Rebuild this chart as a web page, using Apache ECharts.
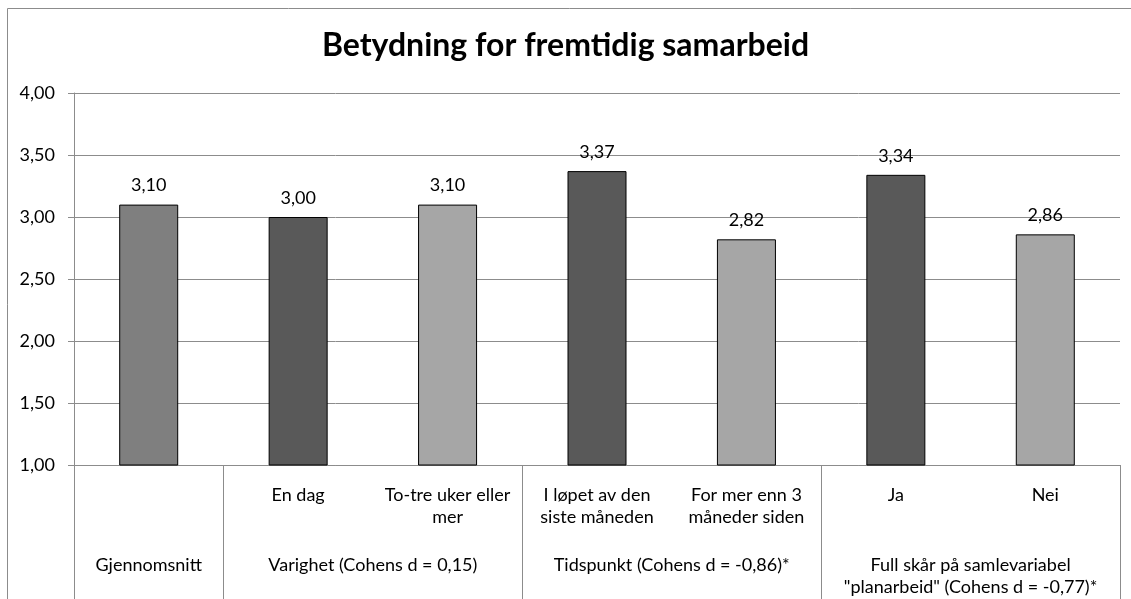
<html>
<head>
    <meta charset="utf-8">
    <script src="https://cdn.jsdelivr.net/npm/echarts@6/dist/echarts.min.js"></script>
    <style>
        html, body { margin: 0; padding: 0; background: #fff; }
        #main { width: 1131px; height: 599px; }
    </style>
</head>
<body>
<div id="main"></div>
<script>
    // bottom row of the category table (one per bar)
    var categories = ['', 'En dag', 'To-tre uker eller\nmer', 'I løpet av den\nsiste måneden',
        'For mer enn 3\nmåneder siden', 'Ja', 'Nei'];
    var values = [3.10, 3.00, 3.10, 3.37, 2.82, 3.34, 2.86];
    // group row and how many bars each group spans
    var groupLabels = ['Gjennomsnitt', 'Varighet (Cohens d = 0,15)', 'Tidspunkt (Cohens d = -0,86)*',
        'Full skår på samlevariabel\n"planarbeid" (Cohens d = -0,77)*'];
    var groupSpans = [1, 2, 2, 2];
    var yTicks = [1, 1.5, 2, 2.5, 3, 3.5, 4];

    var barColors = ['#7f7f7f', '#595959', '#a6a6a6', '#595959', '#a6a6a6', '#595959', '#a6a6a6'];
    var font = 'Lato, "Open Sans", sans-serif';
    var lineColor = '#8c8c8c';

    var fmt = function (v) {
        return v.toFixed(2).replace('.', ',');
    };

    // group boundaries / centres in bar units
    var groupBounds = [0];
    var groupCenters = [];
    groupSpans.forEach(function (s) {
        var start = groupBounds[groupBounds.length - 1];
        groupCenters.push(start + s / 2);
        groupBounds.push(start + s);
    });

    var chart = echarts.init(document.getElementById('main'));

    var option = {
        animation: false,
        textStyle: { fontFamily: font },
        title: {
            text: 'Betydning for fremtidig samarbeid',
            left: 'center',
            top: 25,
            textStyle: { fontSize: 32, fontWeight: 'bold', color: '#000', fontFamily: font }
        },
        graphic: [{
            type: 'rect',
            shape: { x: 7.5, y: 8.5, width: 1300, height: 800 },
            style: { fill: 'none', stroke: lineColor, lineWidth: 1 },
            silent: true
        }],
        grid: { left: 74, right: 11, top: 93, bottom: 134 },
        xAxis: [{
            type: 'category',
            data: categories,
            axisLine: { lineStyle: { color: lineColor } },
            axisTick: { interval: 0, length: 63, lineStyle: { color: lineColor } },
            axisLabel: {
                interval: 0, margin: 19, align: 'center',
                fontSize: 18, lineHeight: 22, color: '#000'
            }
        }, {
            type: 'value',
            min: 0,
            max: categories.length,
            position: 'bottom',
            axisLine: { show: false },
            splitLine: { show: false },
            axisTick: { show: true, customValues: groupBounds, length: 140, lineStyle: { color: lineColor } },
            axisLabel: {
                customValues: groupCenters, margin: 89, align: 'center',
                fontSize: 18, lineHeight: 22, color: '#000',
                formatter: function (v) {
                    var i = groupCenters.indexOf(v);
                    return i >= 0 ? groupLabels[i] : '';
                }
            }
        }],
        yAxis: {
            type: 'value',
            min: yTicks[0],
            max: yTicks[yTicks.length - 1],
            interval: 0.5,
            axisLine: { show: true, lineStyle: { color: lineColor } },
            axisTick: { show: true, length: 6, lineStyle: { color: lineColor } },
            splitLine: { lineStyle: { color: lineColor } },
            axisLabel: { margin: 19, fontSize: 18, color: '#000', formatter: fmt }
        },
        series: [{
            type: 'bar',
            xAxisIndex: 0,
            data: values,
            barWidth: 59,
            itemStyle: {
                color: function (p) { return barColors[p.dataIndex]; },
                borderColor: '#000',
                borderWidth: 1
            },
            label: {
                show: true,
                position: 'top',
                distance: 10,
                fontSize: 18,
                color: '#000',
                formatter: function (p) { return fmt(p.value); }
            }
        }]
    };

    chart.setOption(option);
</script>
</body>
</html>
